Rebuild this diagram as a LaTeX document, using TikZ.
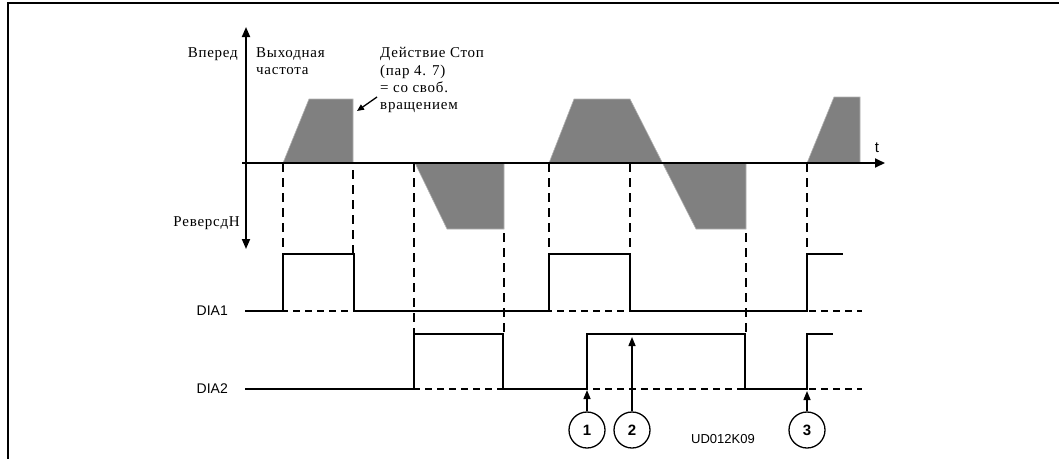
\documentclass[tikz,border=0pt]{standalone}
\usepackage{fontspec}
\setmainfont{Liberation Serif}[LetterSpace=5]
\setsansfont{Liberation Sans}
\usetikzlibrary{arrows.meta,positioning}
\tikzset{
  axisline/.style={line width=1.8pt, {Triangle[length=10pt,width=8pt]}-{Triangle[length=10pt,width=8pt]}},
  taxis/.style={line width=1.8pt, -{Triangle[length=10pt,width=9pt]}},
  ramp/.style={fill=gray, draw=gray!60, line width=0.6pt},
  sigline/.style={line width=1.5pt},
  guide/.style={line width=1.6pt, dash pattern=on 9pt off 6pt},
  zeroline/.style={line width=1.3pt, dash pattern=on 7pt off 5pt},
  rulabel/.style={font=\fontsize{15}{17.3}\selectfont, align=left, inner sep=0pt},
  dialabel/.style={font=\sffamily\fontsize{14}{16}\selectfont, inner sep=0pt, anchor=east},
  stepmark/.style={circle, draw, line width=1.3pt, minimum size=36pt, inner sep=0pt, font=\sffamily\bfseries\fontsize{15}{17}\selectfont},
  markarrow/.style={line width=1.5pt, -{Triangle[length=9pt,width=7pt]}}
}

\begin{document}
\begin{tikzpicture}[x=1pt, y=-1pt]
  \useasboundingbox (0,0) rectangle (1059,459);
  \draw[line width=2pt] (1059,3) -- (8,3) -- (8,459);

  % output frequency ramps
  \draw[ramp] (283,163) -- (309,99) -- (353,99) -- (353,163) -- cycle;
  \draw[ramp] (415,163) -- (447,229) -- (504,229) -- (504,163) -- cycle;
  \draw[ramp] (549,163) -- (574,99) -- (630,99) -- (696,229) -- (746,229) -- (746,163) -- cycle;
  \draw[ramp] (807,163) -- (834,97) -- (860,97) -- (860,163) -- cycle;

  % axes
  \coordinate (vtop) at (246,27);
  \coordinate (vbot) at (246,249);
  \coordinate (tleft) at (242,163);
  \coordinate (tright) at (885,163);
  \draw[axisline] (vbot) -- (vtop);
  \draw[taxis] (tleft) -- (tright);
  \node[font=\sffamily\fontsize{15}{17}\selectfont, inner sep=0pt] (tlab) at (877,148) {t};

  \node[rulabel, anchor=north east] (fwd) at (238,47.5) {Вперед};
  \node[rulabel, anchor=north west] (fout) at (256,47.5) {Выходная\\частота};
  \node[rulabel, anchor=north west] (stop) at (380,47.5) {Действие Стоп\\(пар 4. 7)\\= со своб.\\вращением};
  \node[rulabel, anchor=east] (rev) at (240,223) {РеверсдН};
  \coordinate (stoptail) at (377,97);
  \coordinate (stoptip) at (357,111);
  \draw[line width=1.3pt, -{Triangle[length=7pt,width=6pt]}] (stoptail) -- (stoptip);

  % guides
  \foreach \gx/\gy/\gz in {283/163/254, 353/170/254, 414/163/334, 504/233/334,
                           549/163/254, 630/163/254, 746/233/334, 807/163/254}
    \draw[guide] (\gx,\gy) -- (\gx,\gz);

  % digital inputs
  \node[dialabel] (dia1) at (228,311) {DIA1};
  \node[dialabel] (dia2) at (228,389) {DIA2};
  \draw[zeroline] (245,311) -- (862,311);
  \draw[zeroline] (245,389) -- (862,389);
  \draw[sigline] (245,311) -- (283,311) -- (283,254) -- (354,254) -- (354,311)
    -- (549,311) -- (549,254) -- (630,254) -- (630,311) -- (807,311) -- (807,254) -- (843,254);
  \draw[sigline] (245,389) -- (414,389) -- (414,334) -- (503,334) -- (503,389)
    -- (587,389) -- (587,334) -- (745,334) -- (745,389) -- (807,389) -- (807,334) -- (833,334);

  % event marks
  \node[stepmark] (m1) at (587,430) {1};
  \node[stepmark] (m2) at (632,430) {2};
  \node[stepmark] (m3) at (807,430) {3};
  \coordinate (e1) at (587,390);
  \coordinate (e2) at (632,337);
  \coordinate (e3) at (807,391);
  \draw[markarrow] (m1) -- (e1);
  \draw[markarrow] (m2) -- (e2);
  \draw[markarrow] (m3) -- (e3);
  \node[font=\sffamily\fontsize{13}{15}\selectfont, inner sep=0pt] (code) at (723,439) {UD012K09};
\end{tikzpicture}
\end{document}
